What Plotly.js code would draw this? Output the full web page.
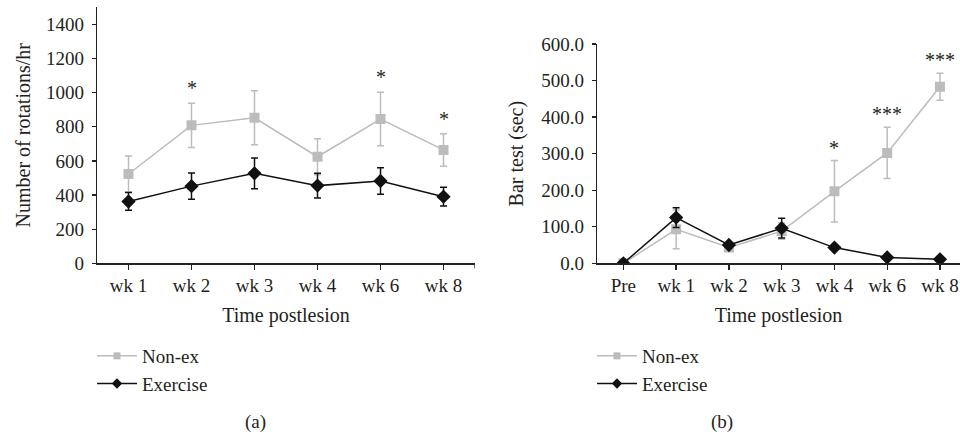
<!DOCTYPE html>
<html>
<head>
<meta charset="utf-8">
<script src="https://cdn.plot.ly/plotly-3.0.1.min.js"></script>
<style>html,body{margin:0;padding:0;background:#fff}#chart{width:960px;height:434px}</style>
</head>
<body>
<div id="chart"></div>
<script>
// Panel (a): rotations
const catsA = ["wk 1", "wk 2", "wk 3", "wk 4", "wk 6", "wk 8"];
const nonexA = [523, 808, 852, 624, 845, 664];
const nonexAErr = [105, 130, 158, 106, 157, 95];
const exerA = [362, 452, 527, 455, 482, 390];
const exerAErr = [52, 77, 90, 72, 77, 55];
const starsA = ["", "*", "", "", "*", "*"];

// Panel (b): bar test
const catsB = ["Pre", "wk 1", "wk 2", "wk 3", "wk 4", "wk 6", "wk 8"];
const nonexB = [0, 93, 43, 88, 197, 302, 483];
const nonexBErr = [0, 53, 5, 22, 84, 70, 37];
const exerB = [0, 125, 50, 96, 43, 16, 11];
const exerBErr = [0, 27, 4, 27, 3, 2, 2];
const starsB = ["", "", "", "", "*", "***", "***"];

const seriesNames = ["Non-ex", "Exercise"];

const GREY = "#bcbcbc";
const BLACK = "#111111";
const TXT = "#231f20";
const FONT = "'Liberation Serif', 'Times New Roman', serif";
const H = 434, W = 960;

function series(x, y, err, name, color, symbol, size, xa, ya) {
  return {
    type: "scatter", mode: "lines+markers", x: x, y: y, name: name,
    xaxis: xa, yaxis: ya, showlegend: false,
    line: {color: color, width: 1.5},
    marker: {color: color, symbol: symbol, size: size},
    error_y: {type: "data", array: err, visible: true, color: color, thickness: 1.5, width: 3.5}
  };
}
// legend entries drawn with smaller symbols, as in the reference key
function key(name, color, symbol, size, xa, ya, legend) {
  return {
    type: "scatter", mode: "lines+markers", x: [null], y: [null], name: name,
    xaxis: xa, yaxis: ya, legend: legend, showlegend: true, hoverinfo: "skip",
    line: {color: color, width: 1.5}, marker: {color: color, symbol: symbol, size: size}
  };
}

const traces = [
  series(catsA, nonexA, nonexAErr, seriesNames[0], GREY, "square", 10, "x", "y"),
  series(catsA, exerA, exerAErr, seriesNames[1], BLACK, "diamond", 11, "x", "y"),
  series(catsB, nonexB, nonexBErr, seriesNames[0], GREY, "square", 10, "x2", "y2"),
  series(catsB, exerB, exerBErr, seriesNames[1], BLACK, "diamond", 11, "x2", "y2"),
  key(seriesNames[0], GREY, "square", 7, "x", "y", "legend"),
  key(seriesNames[1], BLACK, "diamond", 8, "x", "y", "legend"),
  key(seriesNames[0], GREY, "square", 7, "x2", "y2", "legend2"),
  key(seriesNames[1], BLACK, "diamond", 8, "x2", "y2", "legend2")
];

const annotations = [];
catsA.forEach((c, i) => {
  if (starsA[i]) annotations.push({xref: "x", yref: "y", x: c, y: nonexA[i] + nonexAErr[i], text: starsA[i],
    showarrow: false, yanchor: "bottom", yshift: 2, font: {family: FONT, size: 20, color: TXT}});
});
catsB.forEach((c, i) => {
  if (starsB[i]) annotations.push({xref: "x2", yref: "y2", x: c, y: nonexB[i] + nonexBErr[i], text: starsB[i],
    showarrow: false, yanchor: "bottom", yshift: 0, font: {family: FONT, size: 20, color: TXT}});
});
annotations.push({xref: "paper", yref: "paper", x: 243 / W, y: (H - 422) / H, yanchor: "middle", text: "(a)",
  showarrow: false, font: {family: FONT, size: 19, color: TXT}});
annotations.push({xref: "paper", yref: "paper", x: 735 / W, y: (H - 422) / H, yanchor: "middle", text: "(b)",
  showarrow: false, font: {family: FONT, size: 19, color: TXT}});

const yBot = (H - 263.3) / H;
const axisCommon = {
  showgrid: false, zeroline: false, showline: true, linecolor: "#222", linewidth: 1.3,
  ticks: "outside", ticklen: 5, tickwidth: 1.3, tickcolor: "#222",
  tickfont: {family: FONT, size: 19, color: TXT}
};
const legendCommon = {xanchor: "left", yanchor: "top", bgcolor: "rgba(0,0,0,0)",
  font: {family: FONT, size: 19, color: TXT}, tracegroupgap: 0, itemwidth: 40};

const layout = {
  width: W, height: H,
  margin: {l: 0, r: 0, t: 0, b: 0},
  paper_bgcolor: "#fff", plot_bgcolor: "#fff",
  font: {family: FONT, color: TXT},
  xaxis: Object.assign({}, axisCommon, {
    type: "category", domain: [97 / W, 475 / W], range: [-0.5, 5.5], anchor: "y",
    title: {text: "Time postlesion", font: {family: FONT, size: 20, color: TXT}, standoff: 12}
  }),
  yaxis: Object.assign({}, axisCommon, {
    domain: [yBot, (H - 7.2) / H], range: [0, 1500], anchor: "x", dtick: 200, tick0: 0,
    ticklen: 4, ticklabelstandoff: 4,
    title: {text: "Number of rotations/hr", font: {family: FONT, size: 20, color: TXT}, standoff: 10}
  }),
  xaxis2: Object.assign({}, axisCommon, {
    type: "category", domain: [597 / W, 1], range: [-0.5, 6.38], anchor: "y2",
    title: {text: "Time postlesion", font: {family: FONT, size: 20, color: TXT}, standoff: 12}
  }),
  yaxis2: Object.assign({}, axisCommon, {
    domain: [yBot, (H - 44) / H], range: [0, 600], anchor: "x2", dtick: 100, tick0: 0,
    tickformat: ".1f", ticklen: 4, ticklabelstandoff: 4,
    title: {text: "Bar test (sec)", font: {family: FONT, size: 20, color: TXT}, standoff: 12}
  }),
  legend: Object.assign({}, legendCommon, {x: 92 / W, y: (H - 337) / H}),
  legend2: Object.assign({}, legendCommon, {x: 592 / W, y: (H - 337) / H}),
  annotations: annotations,
  shapes: [
    {type: "line", xref: "x", yref: "paper", x0: catsA.length - 0.5, x1: catsA.length - 0.5,
      y0: yBot, y1: yBot - 5 / H, line: {color: "#222", width: 1.3}}
  ]
};

Plotly.newPlot("chart", traces, layout, {displayModeBar: false, staticPlot: true});
</script>
</body>
</html>
